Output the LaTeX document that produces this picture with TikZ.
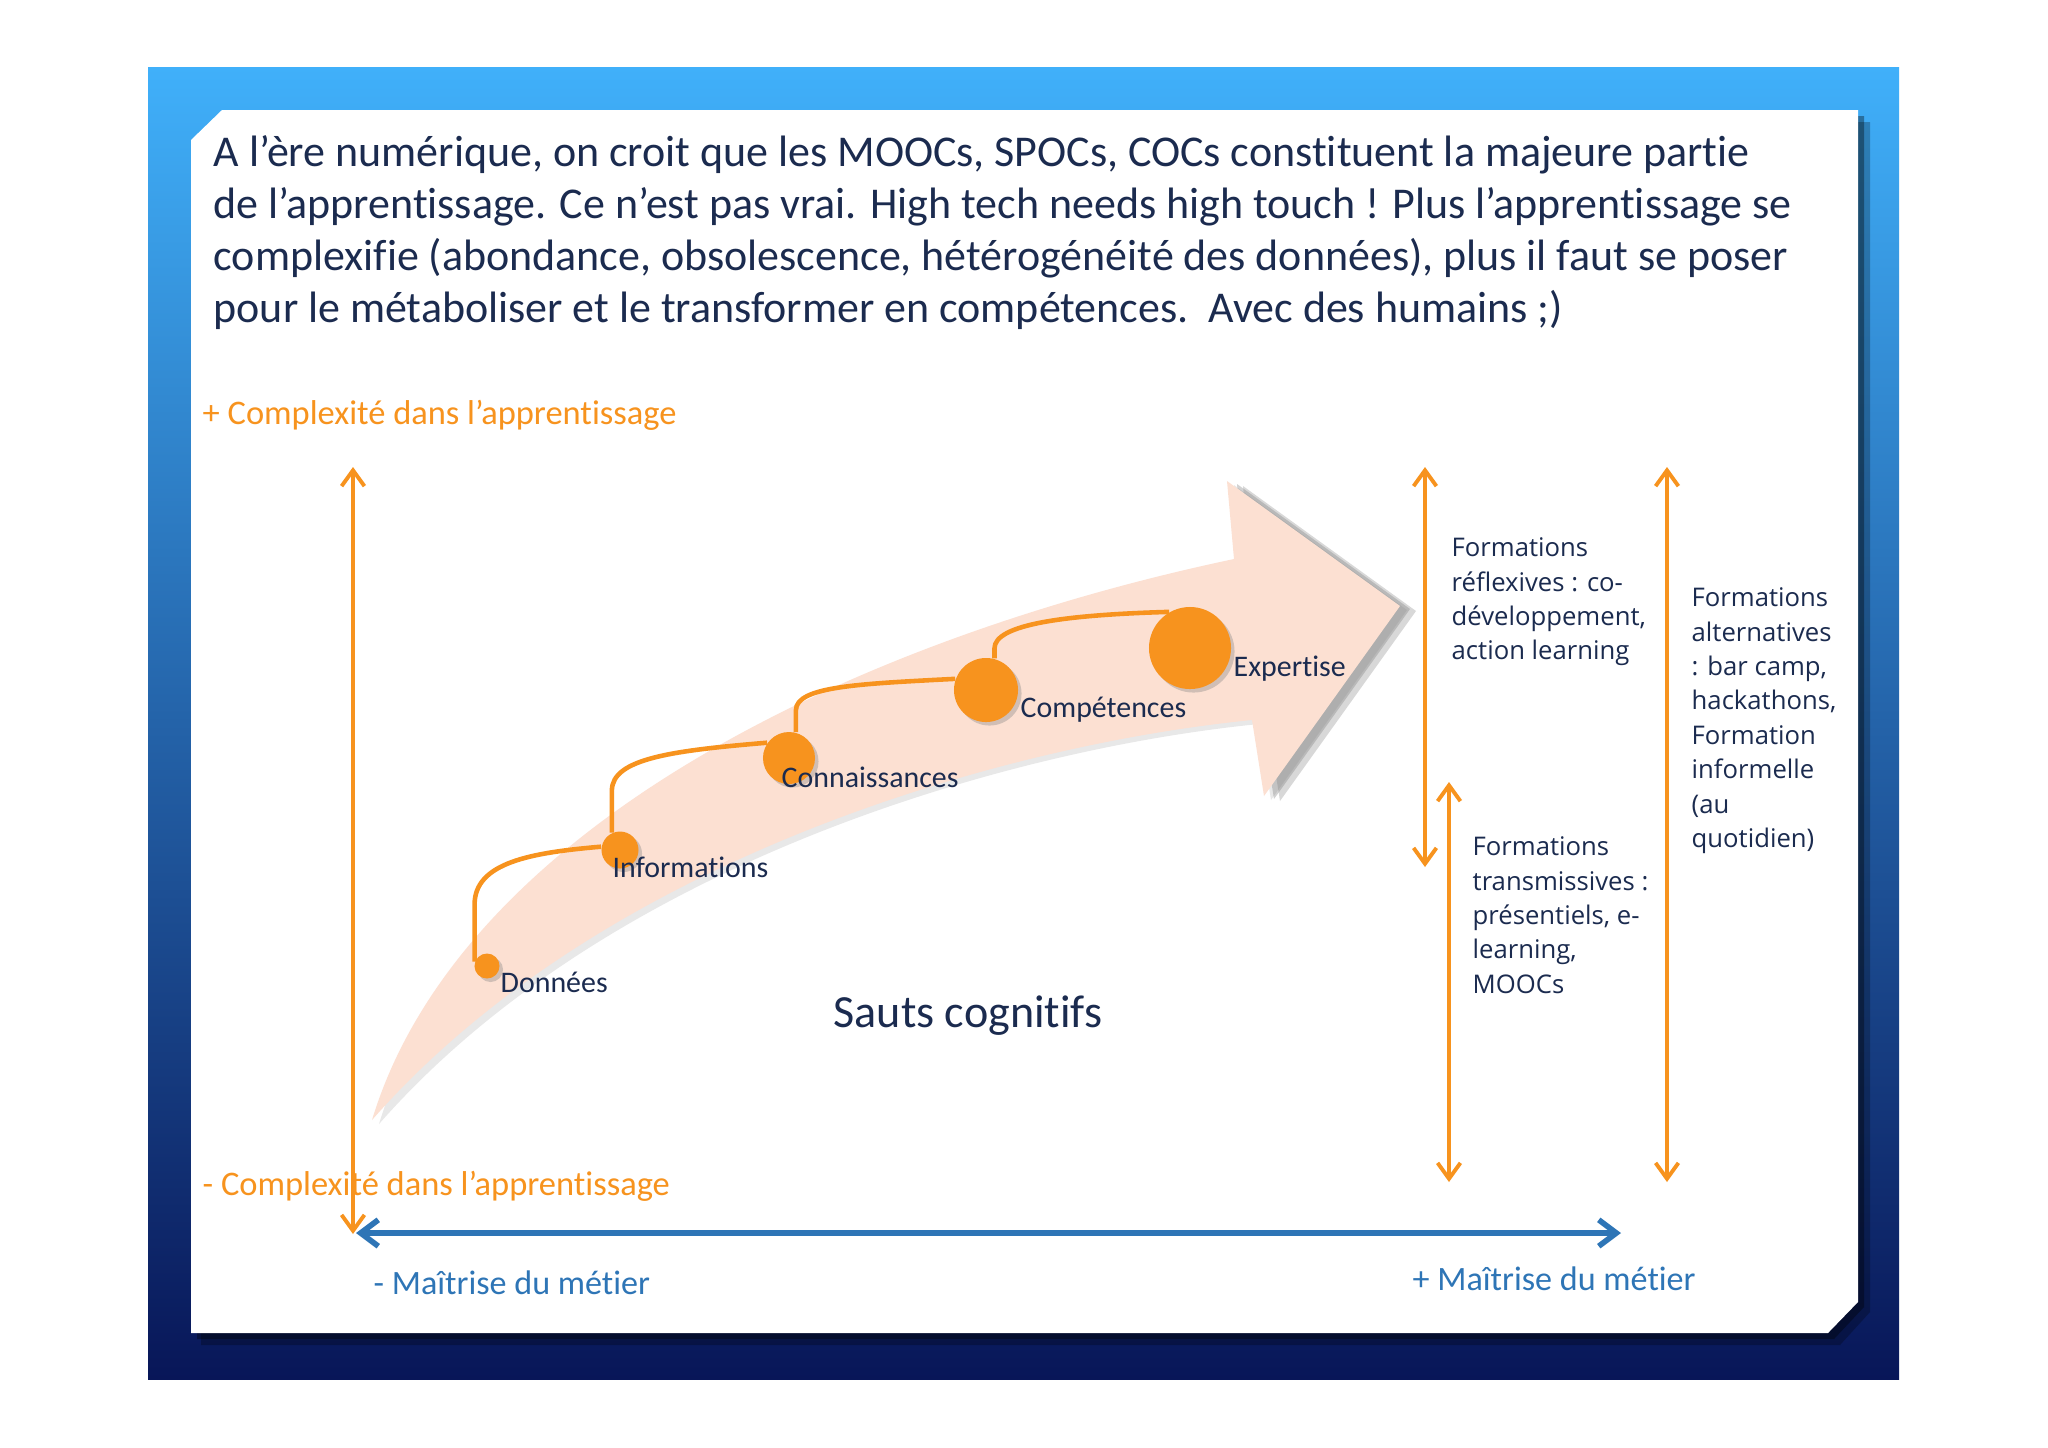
\documentclass[tikz,border=0pt]{standalone}
\usepackage{fontspec}
\setmainfont{Carlito}[Ligatures=NoCommon]
\newfontfamily\sidefont{Open Sans}
\usetikzlibrary{arrows.meta,positioning,shadows}
\definecolor{bandtop}{RGB}{64,176,250}
\definecolor{bandmid}{RGB}{26,100,192}
\definecolor{bandbot}{RGB}{8,22,88}
\definecolor{orangeline}{RGB}{247,147,30}
\definecolor{navytext}{RGB}{27,43,79}
\definecolor{axisblue}{RGB}{46,117,182}
\definecolor{peach}{RGB}{252,224,210}
\begin{document}
\begin{tikzpicture}[x=0.01cm, y=-0.01cm, >={Straight Barb[length=4.5pt,width=6.5pt]},
    stage dot/.style={circle, fill=orangeline, inner sep=0pt,
      drop shadow={opacity=0.35, shadow xshift=1pt, shadow yshift=-1pt}},
    stage label/.style={font=\fontsize{8.5}{10}\selectfont, text=navytext, anchor=base west, inner sep=0pt},
    jump/.style={draw=orangeline, line width=1.3pt},
    span arrow/.style={<->, draw=orangeline, line width=1.1pt},
    axis arrow/.style={{Straight Barb[length=5pt,width=7.5pt]}-{Straight Barb[length=5pt,width=7.5pt]}, draw=axisblue, line width=1.6pt},
    side text/.style={font=\sidefont\fontsize{7.3}{9.8}\selectfont, text=navytext, align=left, anchor=north west, inner sep=0pt},
    cpx label/.style={font=\fontsize{9.8}{11}\selectfont, text=orangeline, anchor=base west, inner sep=0pt},
    job label/.style={font=\fontsize{9.7}{11}\selectfont, text=axisblue, anchor=base west, inner sep=0pt}]

  \useasboundingbox (0,0) rectangle (2048,1447);
  \fill[white] (0,0) rectangle (2048,1447);

  % background band and card
  \shade[top color=bandtop, middle color=bandmid, bottom color=bandbot] (148,67) rectangle (1899,1379);
  \fill[black, opacity=0.25] (201,152) -- (232,122) -- (1870,122) -- (1870,1312) -- (1840,1345) -- (201,1345) -- cycle;
  \fill[black, opacity=0.35] (197,146) -- (228,116) -- (1864,116) -- (1864,1307) -- (1834,1339) -- (197,1339) -- cycle;
  \fill[white] (191,140) -- (222,110) -- (1858,110) -- (1858,1302) -- (1828,1333) -- (191,1333) -- cycle;

  \node[font=\fontsize{12.5}{14.8}\selectfont, text=navytext, align=left, anchor=north west, inner sep=0pt] (intro) at (213,135)
    {A l’ère numérique, on croit que les MOOCs, SPOCs, COCs constituent la majeure partie\\
     de l’apprentissage. Ce n’est pas vrai. High tech needs high touch ! Plus l’apprentissage se\\
     complexifie (abondance, obsolescence, hétérogénéité des données), plus il faut se poser\\
     pour le métaboliser et le transformer en compétences.\ \ Avec des humains ;)};

  % big arrow
  \fill[gray, opacity=0.18, shift={(7,4)}] (372,1120) .. controls (460,830) and (850,640) .. (1234,559)
    -- (1227,481) -- (1400,606) -- (1264,796) -- (1252,720) .. controls (1000,745) and (600,860) .. (372,1120) -- cycle;
  \fill[gray, opacity=0.3, shift={(16,5)}] (1234,559) -- (1227,481) -- (1400,606) -- (1264,796) -- (1252,720) -- cycle;
  \fill[gray, opacity=0.35, shift={(10,3)}] (1234,559) -- (1227,481) -- (1400,606) -- (1264,796) -- (1252,720) -- cycle;
  \fill[peach] (372,1120) .. controls (460,830) and (850,640) .. (1234,559)
    -- (1227,481) -- (1400,606) -- (1264,796) -- (1252,720) .. controls (1000,745) and (600,860) .. (372,1120) -- cycle;

  \node[stage dot, minimum size=0.25cm] (don) at (487,966) {};
  \node[stage dot, minimum size=0.37cm] (inf) at (620,850) {};
  \node[stage dot, minimum size=0.52cm] (con) at (789,758) {};
  \node[stage dot, minimum size=0.64cm] (comp) at (986,690) {};
  \node[stage dot, minimum size=0.82cm] (exp) at (1190,648) {};

  \draw[jump] (don.160) -- ++(0,-57) .. controls +(0,-42) and +(-70,6) .. (inf.170);
  \draw[jump] (inf.115) -- ++(0,-42) .. controls +(0,-32) and +(-95,8) .. (con.145);
  \draw[jump] (con.75) -- ++(0,-22) .. controls +(0,-24) and +(-95,5) .. (comp.160);
  \draw[jump] (comp.75) -- ++(0,-10) .. controls +(0,-24) and +(-105,3) .. (exp.120);

  \node[stage label] (donl) at (500,992) {Données};
  \node[stage label] (infl) at (612,877) {Informations};
  \node[stage label] (conl) at (781,787) {Connaissances};
  \node[stage label] (compl) at (1020,717) {Compétences};
  \node[stage label] (expl) at (1233,676) {Expertise};
  \node[font=\fontsize{13.1}{15}\selectfont, text=navytext, anchor=base west, inner sep=0pt] (sauts) at (833,1027) {Sauts cognitifs};

  % axes
  \coordinate (cpxtop) at (353,467);
  \coordinate (cpxbot) at (353,1234);
  \coordinate (jobmin) at (356,1233);
  \coordinate (jobmax) at (1621,1233);
  \draw[span arrow] (cpxtop) -- (cpxbot);
  \draw[axis arrow] (jobmin) -- (jobmax);
  \node[cpx label] (cpxplus) at (202,424) {+ Complexité dans l’apprentissage};
  \node[cpx label] (cpxmoins) at (202,1195) {- Complexité dans l’apprentissage};
  \node[job label] (jobmoins) at (373,1294) {- Maîtrise du métier};
  \node[job label] (jobplus) at (1412,1290) {+ Maîtrise du métier};

  % formations
  \coordinate (reftop) at (1425,467);
  \coordinate (refbot) at (1425,867);
  \coordinate (tratop) at (1449,782);
  \coordinate (trabot) at (1449,1182);
  \coordinate (alttop) at (1667,467);
  \coordinate (altbot) at (1667,1182);
  \draw[span arrow] (reftop) -- (refbot);
  \draw[span arrow] (tratop) -- (trabot);
  \draw[span arrow] (alttop) -- (altbot);
  \node[side text] (refl) at (1451,537) {Formations\\réflexives : co-\\développement,\\action learning};
  \node[side text] (tran) at (1472,836) {Formations\\transmissives :\\présentiels, e-\\learning,\\MOOCs};
  \node[side text] (alte) at (1691,587) {Formations\\alternatives\\: bar camp,\\hackathons,\\Formation\\informelle\\(au\\quotidien)};
\end{tikzpicture}
\end{document}
